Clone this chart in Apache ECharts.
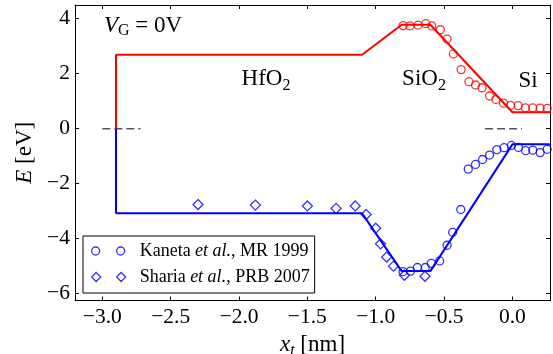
<!DOCTYPE html>
<html>
<head>
<meta charset="utf-8">
<script src="https://cdn.jsdelivr.net/npm/echarts@6/dist/echarts.min.js"></script>
<style>html,body{margin:0;padding:0;background:#fff}#c{width:553px;height:354px}</style>
</head>
<body>
<div id="c"></div>
<script>
// ---- data ----
const bandLineX = [-2.9, -2.9, -1.1, -0.81, -0.6, 0.0, 0.3];
const cbLineY   = [0, 2.69, 2.69, 3.78, 3.78, 0.6, 0.6];
const vbLineY   = [0, -3.08, -3.08, -5.18, -5.18, -0.57, -0.57];

const kanetaCbX = [-0.80,-0.75,-0.69,-0.634,-0.59,-0.527,-0.478,-0.432,-0.375,-0.318,-0.27,-0.222,-0.167,-0.121,-0.065,-0.013,0.042,0.095,0.149,0.203,0.254,0.30];
const kanetaCbY = [3.75,3.74,3.77,3.82,3.74,3.60,3.26,2.72,2.15,1.71,1.59,1.49,1.19,1.06,0.93,0.85,0.84,0.76,0.76,0.75,0.74,0.74];

const kanetaVbX = [-0.80,-0.746,-0.695,-0.637,-0.594,-0.532,-0.478,-0.437,-0.378,-0.323,-0.27,-0.219,-0.167,-0.114,-0.061,-0.007,0.044,0.097,0.149,0.203,0.254,0.30];
const kanetaVbY = [-5.20,-5.18,-5.05,-5.05,-4.90,-4.81,-4.24,-3.77,-2.94,-1.47,-1.30,-1.12,-0.96,-0.76,-0.69,-0.61,-0.68,-0.80,-0.78,-0.87,-0.75,-0.87];

const shariaX = [-2.30,-1.88,-1.50,-1.29,-1.15,-1.07,-1.00,-0.965,-0.92,-0.87,-0.79,-0.64];
const shariaY = [-2.76,-2.78,-2.81,-2.90,-2.81,-3.12,-3.62,-4.19,-4.67,-5.00,-5.33,-5.37];

const refLeftX = [-3.0, -2.72];
const refRightX = [-0.2, 0.07];
const refY = [0, 0];

const xTickMin = -3.2, xTickMax = 0.275;
const yTickMin = -6.25, yTickMax = 4.5;

const kanetaName = 'Kaneta et al., MR 1999';
const shariaName = 'Sharia et al., PRB 2007';

// ---- helpers ----
const zip = (xs, ys) => xs.map((x, i) => [x, ys[i]]);
const FONT = 'Liberation Serif';
const minus = s => s.replace('-', '\u2212');

const circlesIcon = 'path://M43,0 M43,9 M8,4.5 A4,4 0 1,1 0,4.5 A4,4 0 1,1 8,4.5 Z M33,4.5 A4,4 0 1,1 25,4.5 A4,4 0 1,1 33,4.5 Z';
const diamondsIcon = 'path://M43,0 M4.5,0 L9,4.5 L4.5,9 L0,4.5 Z M29.5,0 L34,4.5 L29.5,9 L25,4.5 Z';

const chart = echarts.init(document.getElementById('c'), null, {renderer: 'canvas'});

const axisCommon = {
  type: 'value',
  splitLine: {show: false},
  axisLine: {show: true, onZero: false, lineStyle: {color: '#000', width: 1}},
  axisTick: {show: true, inside: true, length: 4, lineStyle: {color: '#000', width: 1}},
};

const option = {
  animation: false,
  backgroundColor: '#fff',
  grid: {left: 75, right: 3, top: 5, bottom: 53.5, containLabel: false, outerBoundsMode: 'none'},
  xAxis: [
    Object.assign({}, axisCommon, {
      position: 'bottom', min: xTickMin, max: xTickMax, splitNumber: 7,
      axisLabel: {show: true, showMinLabel: false, showMaxLabel: false, margin: 6,
        fontFamily: FONT, fontSize: 21.5, color: '#000',
        formatter: v => (Math.abs(v) < 1e-9 ? '0.0' : minus(v.toFixed(1)))},
      name: '{i|x}{s|t} [nm]', nameLocation: 'middle', nameGap: 29,
      nameTextStyle: {fontFamily: FONT, fontSize: 23, color: '#000',
        rich: {i: {fontFamily: FONT, fontSize: 23, fontStyle: 'italic', color: '#000'},
               s: {fontFamily: FONT, fontSize: 16, fontStyle: 'italic', color: '#000', padding: [12, 0, 0, 0]}}}
    }),
    Object.assign({}, axisCommon, {
      position: 'top', min: xTickMin, max: xTickMax, splitNumber: 7,
      axisLabel: {show: false}
    })
  ],
  yAxis: [
    Object.assign({}, axisCommon, {
      position: 'left', min: yTickMin, max: yTickMax, splitNumber: 5,
      axisLabel: {show: true, showMinLabel: false, showMaxLabel: false, margin: 5,
        fontFamily: FONT, fontSize: 21.5, color: '#000',
        formatter: v => minus(String(v))},
      name: '{i|E} [eV]', nameLocation: 'middle', nameGap: 38,
      nameTextStyle: {fontFamily: FONT, fontSize: 23, color: '#000',
        rich: {i: {fontFamily: FONT, fontSize: 23, fontStyle: 'italic', color: '#000'}}}
    }),
    Object.assign({}, axisCommon, {
      position: 'right', min: yTickMin, max: yTickMax, splitNumber: 5,
      axisLabel: {show: false}
    })
  ],
  legend: {
    show: true, orient: 'vertical', left: 83, top: 236,
    backgroundColor: '#fff', borderColor: '#000', borderWidth: 1, borderRadius: 0,
    padding: [6, 5, 7, 8], itemGap: 8, itemWidth: 43, itemHeight: 9,
    textStyle: {fontFamily: FONT, fontSize: 18, color: '#000',
      rich: {n: {fontFamily: FONT, fontSize: 18, color: '#000'},
             it: {fontFamily: FONT, fontSize: 18, fontStyle: 'italic', color: '#000'}}},
    formatter: name => {
      const parts = name.split('et al.');
      return '{n|' + parts[0] + '}{it|et al.}{n|' + parts[1] + '}';
    },
    selectedMode: false,
    data: [
      {name: kanetaName, icon: circlesIcon,
       itemStyle: {color: 'rgba(0,0,0,0)', borderColor: '#0000ff', borderWidth: 1.3}},
      {name: shariaName, icon: diamondsIcon,
       itemStyle: {color: 'rgba(0,0,0,0)', borderColor: '#0000ff', borderWidth: 1.3}}
    ]
  },
  graphic: [
    {type: 'text', left: 104, top: 14, silent: true,
     style: {text: '{i|V}{s|G} = 0V', fontFamily: FONT, fontSize: 23, fill: '#000',
       rich: {i: {fontFamily: FONT, fontSize: 23, fontStyle: 'italic', fill: '#000'},
              s: {fontFamily: FONT, fontSize: 16, fill: '#000', padding: [11, 0, 0, 0]}}}},
    {type: 'text', x: 266, y: 79, silent: true,
     style: {text: 'HfO{s|2}', fontFamily: FONT, fontSize: 23, fill: '#000', align: 'center', verticalAlign: 'middle',
       rich: {s: {fontFamily: FONT, fontSize: 16, fill: '#000', padding: [13, 0, 0, 0]}}}},
    {type: 'text', x: 424, y: 79, silent: true,
     style: {text: 'SiO{s|2}', fontFamily: FONT, fontSize: 23, fill: '#000', align: 'center', verticalAlign: 'middle',
       rich: {s: {fontFamily: FONT, fontSize: 16, fill: '#000', padding: [13, 0, 0, 0]}}}},
    {type: 'text', x: 528, y: 81, silent: true,
     style: {text: 'Si', fontFamily: FONT, fontSize: 23, fill: '#000', align: 'center', verticalAlign: 'middle'}}
  ],
  series: [
    {name: 'refL', type: 'line', data: zip(refLeftX, refY), symbol: 'none', silent: true,
     lineStyle: {color: '#555', width: 1.5, type: [8, 4]}},
    {name: 'refR', type: 'line', data: zip(refRightX, refY), symbol: 'none', silent: true,
     lineStyle: {color: '#555', width: 1.5, type: [8, 4]}},
    {name: 'CB', type: 'line', data: zip(bandLineX, cbLineY), symbol: 'none', silent: true,
     lineStyle: {color: '#ff0000', width: 2}},
    {name: 'VB', type: 'line', data: zip(bandLineX, vbLineY), symbol: 'none', silent: true,
     lineStyle: {color: '#0000ff', width: 2}},
    {name: 'Kaneta CB', type: 'scatter', data: zip(kanetaCbX, kanetaCbY), symbol: 'circle', symbolSize: 8,
     itemStyle: {color: 'rgba(0,0,0,0)', borderColor: '#ff0000', borderWidth: 1.3}},
    {name: kanetaName, type: 'scatter', data: zip(kanetaVbX, kanetaVbY), symbol: 'circle', symbolSize: 8,
     itemStyle: {color: 'rgba(0,0,0,0)', borderColor: '#0000ff', borderWidth: 1.3}},
    {name: shariaName, type: 'scatter', data: zip(shariaX, shariaY), symbol: 'diamond', symbolSize: 10,
     itemStyle: {color: 'rgba(0,0,0,0)', borderColor: '#0000ff', borderWidth: 1.3}}
  ]
};
chart.setOption(option);
</script>
</body>
</html>
